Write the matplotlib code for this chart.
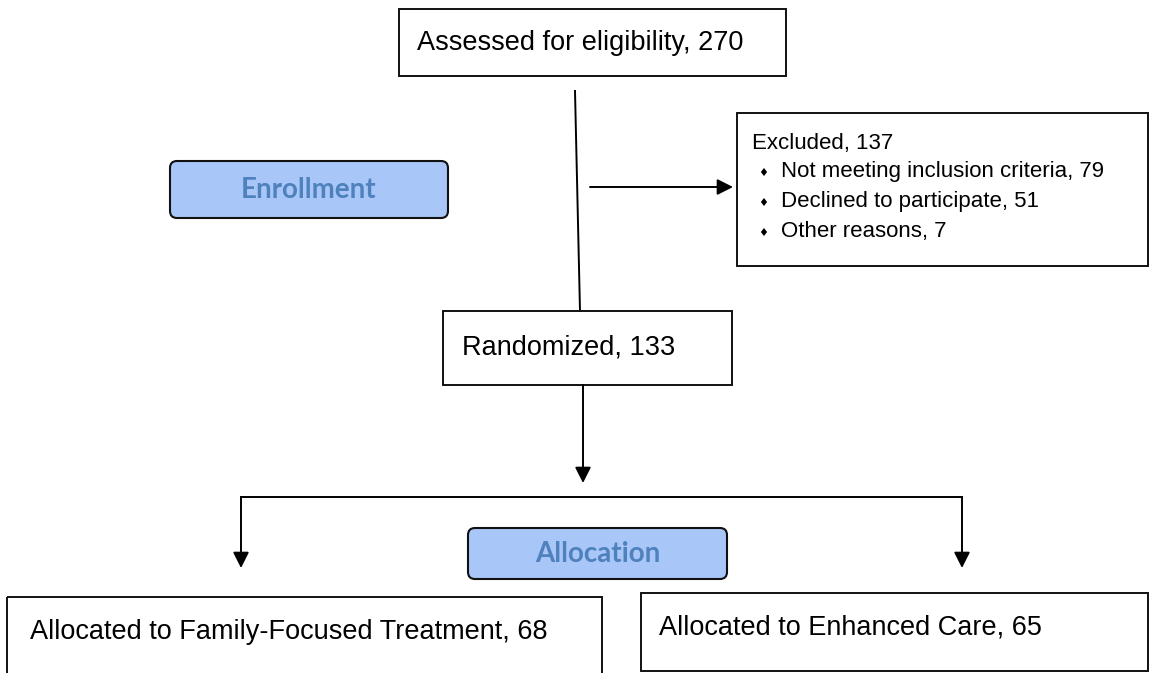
import matplotlib
matplotlib.use("Agg")
import matplotlib.pyplot as plt
from matplotlib.patches import Rectangle, FancyBboxPatch

# ---- data ----
assessed_label = "Assessed for eligibility"
assessed_n = 270
excluded_label = "Excluded"
excluded_n = 137
excluded_reasons = ["Not meeting inclusion criteria", "Declined to participate", "Other reasons"]
excluded_counts = [79, 51, 7]
randomized_label = "Randomized"
randomized_n = 133
arm_labels = ["Allocated to Family-Focused Treatment", "Allocated to Enhanced Care"]
arm_counts = [68, 65]
stage_labels = ["Enrollment", "Allocation"]

W, H = 1149, 673
fig = plt.figure(figsize=(W / 100, H / 100), dpi=100)
ax = fig.add_axes([0, 0, 1, 1])
ax.set_xlim(0, W)
ax.set_ylim(H, 0)
ax.axis("off")

FONT = "Liberation Sans"
LW = 1.4
BIG = 19.5
SMALL = 16


def box(x0, y0, x1, y1, lw=LW):
    ax.add_patch(Rectangle((x0, y0), x1 - x0, y1 - y0, fill=False,
                           edgecolor="#111111", lw=lw, zorder=2))


def stage(x0, y0, x1, y1, text):
    ax.add_patch(FancyBboxPatch((x0 + 7, y0 + 7), (x1 - x0) - 14, (y1 - y0) - 14,
                                boxstyle="round,pad=7", facecolor="#a9c6f8",
                                edgecolor="#111111", lw=1.5, zorder=2))
    ax.text((x0 + x1) / 2, (y0 + y1) / 2 + 1, text, ha="center", va="center",
            fontsize=20, fontweight="bold", color="#4f81bd", family="Lato", zorder=3)


def arrow(x0, y0, x1, y1):
    ax.annotate("", xy=(x1, y1), xytext=(x0, y0),
                arrowprops=dict(arrowstyle="-|>,head_length=0.95,head_width=0.48",
                                mutation_scale=10, lw=LW, color="black",
                                shrinkA=0, shrinkB=0), zorder=3)


# Assessed
box(399, 9, 786, 76)
ax.text(417, 43, f"{assessed_label}, {assessed_n}", ha="left", va="center",
        fontsize=BIG, family=FONT)

# vertical line from assessed to randomized
ax.plot([575, 580], [91, 311], color="black", lw=LW, zorder=1)

# Enrollment stage label
stage(170, 161, 448, 218, stage_labels[0])

# arrow to excluded
arrow(590, 187, 733, 187)

# Excluded box
box(737, 113, 1148, 266)
ax.text(752, 143, f"{excluded_label}, {excluded_n}", ha="left", va="center",
        fontsize=SMALL, family=FONT)
for i, (r, c) in enumerate(zip(excluded_reasons, excluded_counts)):
    y = 172 + i * 29.8
    ax.text(758, y + 1, "\u2666", ha="left", va="center", fontsize=8, family="DejaVu Sans")
    ax.text(781, y, f"{r}, {c}", ha="left", va="center", fontsize=SMALL, family=FONT)

# Randomized
box(443, 311, 732, 385)
ax.text(462, 348, f"{randomized_label}, {randomized_n}", ha="left", va="center",
        fontsize=BIG, family=FONT)

# arrow down from randomized
arrow(583, 385, 583, 483)

# branch
ax.plot([241, 962], [497, 497], color="black", lw=LW, zorder=1)
arrow(241, 497, 241, 568)
arrow(962, 497, 962, 568)

# Allocation stage label
stage(468, 528, 727, 579, stage_labels[1])

# Arm boxes
box(7, 597, 602, 690)
box(641, 593, 1148, 671)
ax.text(30, 632, f"{arm_labels[0]}, {arm_counts[0]}", ha="left", va="center",
        fontsize=BIG, family=FONT)
ax.text(659, 628, f"{arm_labels[1]}, {arm_counts[1]}", ha="left", va="center",
        fontsize=BIG, family=FONT)

fig.savefig("out.png", dpi=100)
